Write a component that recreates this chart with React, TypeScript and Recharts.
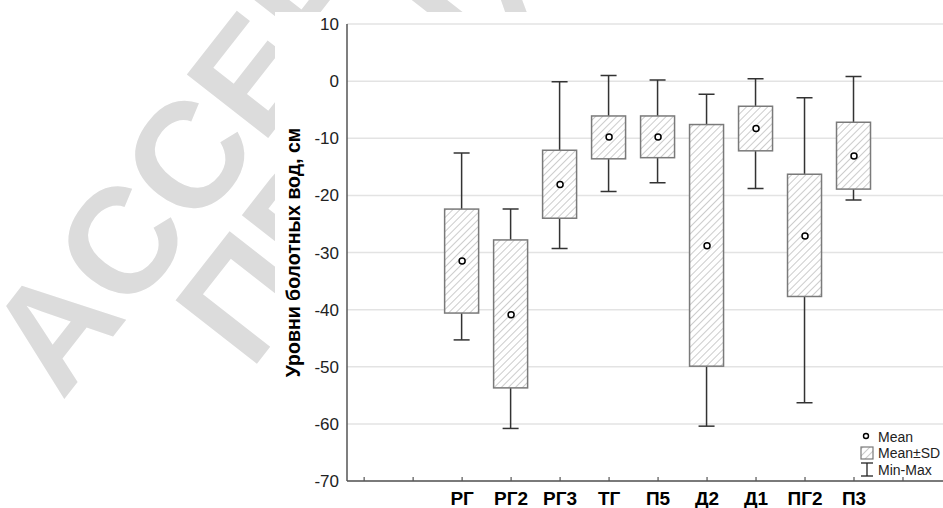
import React from 'react';
import { ComposedChart, Bar, Scatter, XAxis, YAxis, CartesianGrid, Legend } from 'recharts';

const groups = ['РГ', 'РГ2', 'РГ3', 'ТГ', 'П5', 'Д2', 'Д1', 'ПГ2', 'П3'];
const positions = [3, 4, 5, 6, 7, 8, 9, 10, 11];
const minVals = [-45.3, -60.8, -29.3, -19.3, -17.8, -60.4, -18.8, -56.3, -20.8];
const sdLow = [-40.6, -53.7, -24.0, -13.6, -13.4, -49.9, -12.2, -37.7, -18.9];
const means = [-31.5, -40.9, -18.1, -9.8, -9.8, -28.8, -8.3, -27.1, -13.1];
const sdHigh = [-22.4, -27.8, -12.1, -6.1, -6.1, -7.6, -4.4, -16.3, -7.2];
const maxVals = [-12.6, -22.4, -0.1, 1.0, 0.2, -2.3, 0.4, -2.9, 0.8];

const axisTicks = [1, 2, 3, 4, 5, 6, 7, 8, 9, 10, 11, 12];
const xDomain = [0.65, 13.47];
const yTicks = [-70, -60, -50, -40, -30, -20, -10, 0, 10];
const yDomain = [-70, 10];
const yTitle = 'Уровни болотных вод, см';
const legendLabels = ['Mean', 'Mean±SD', 'Min-Max'];
const watermarkLines = ['ACCEPTED', 'ПРИНЯТО'];

const rows = groups.map((g, i) => ({
  name: g,
  x: positions[i],
  min: minVals[i],
  lo: sdLow[i],
  mean: means[i],
  hi: sdHigh[i],
  max: maxVals[i],
  box: [sdLow[i], sdHigh[i]],
  whisk: [minVals[i], maxVals[i]],
}));

const FONT = '"Liberation Sans", Arial, sans-serif';
const AXIS = '#555';

const labelFor = (v: number) => {
  const idx = positions.indexOf(v);
  return idx >= 0 ? groups[idx] : '';
};

const BottomTick = (props: any) => {
  const { x, y, payload } = props;
  return (
    <g>
      <line x1={x} x2={x} y1={y} y2={y - 4} stroke={AXIS} strokeWidth={1.2} />
      <text x={x} y={y + 24} textAnchor="middle" fontWeight="bold" fontSize={19} fill="#000" fontFamily={FONT}>
        {labelFor(payload.value)}
      </text>
    </g>
  );
};

const TopTick = (props: any) => {
  const { x, y } = props;
  return <line x1={x} x2={x} y1={y} y2={y + 4} stroke={AXIS} strokeWidth={1.2} />;
};

const BoxShape = (props: any) => {
  const { x, y, width, height } = props;
  const top = height < 0 ? y + height : y;
  const h = Math.abs(height);
  return (
    <g>
      <rect x={x} y={top} width={width} height={h} fill="#fff" />
      <rect x={x} y={top} width={width} height={h} fill="url(#hatch)" stroke="#7a7a7a" strokeWidth={1.5} />
    </g>
  );
};

const WhiskerShape = (props: any) => {
  const { x, y, width, height } = props;
  const top = height < 0 ? y + height : y;
  const bottom = top + Math.abs(height);
  const cx = x + width / 2;
  const half = 8;
  return (
    <g stroke="#333" strokeWidth={1.5}>
      <line x1={cx} x2={cx} y1={top} y2={bottom} />
      <line x1={cx - half} x2={cx + half} y1={top} y2={top} />
      <line x1={cx - half} x2={cx + half} y1={bottom} y2={bottom} />
    </g>
  );
};

const MeanDot = (props: any) => {
  const { cx, cy } = props;
  return <circle cx={cx} cy={cy} r={3} fill="#fff" stroke="#000" strokeWidth={1.5} />;
};

const YTitle = (props: any) => {
  const vb = props.viewBox || {};
  const cx = (vb.x || 0) + 18;
  const cy = (vb.y || 0) + (vb.height || 0) / 2;
  return (
    <text
      x={cx}
      y={cy}
      transform={`rotate(-90 ${cx} ${cy})`}
      textAnchor="middle"
      dominantBaseline="central"
      fontWeight="bold"
      fontSize={19.5}
      fontFamily={FONT}
      fill="#000"
    >
      {yTitle}
    </text>
  );
};

const LegendContent = () => (
  <svg width={90} height={50} style={{ display: 'block', overflow: 'visible' }}>
    <defs>
      <pattern id="hatchL" patternUnits="userSpaceOnUse" width={5} height={5} patternTransform="rotate(45)">
        <line x1={0} y1={0} x2={0} y2={5} stroke="#9a9a9a" strokeWidth={1} />
      </pattern>
    </defs>
    <circle cx={8} cy={6} r={2.5} fill="#fff" stroke="#000" strokeWidth={1.4} />
    <text x={20} y={11.5} fontSize={14} fontFamily={FONT} fill="#222">{legendLabels[0]}</text>
    <rect x={3} y={17} width={12} height={12} fill="url(#hatchL)" stroke="#7a7a7a" strokeWidth={1.2} />
    <text x={20} y={28} fontSize={14} fontFamily={FONT} fill="#222">{legendLabels[1]}</text>
    <g stroke="#222" strokeWidth={1.3}>
      <line x1={9} x2={9} y1={33} y2={46} />
      <line x1={3} x2={15} y1={33} y2={33} />
      <line x1={3} x2={15} y1={46} y2={46} />
    </g>
    <text x={20} y={45} fontSize={14} fontFamily={FONT} fill="#222">{legendLabels[2]}</text>
  </svg>
);

export default function App() {
  return (
    <div
      style={{
        position: 'fixed',
        left: 0,
        top: 0,
        width: 943,
        height: 508,
        overflow: 'hidden',
        background: '#fff',
        fontFamily: FONT,
      }}
    >
      <svg width={943} height={508} style={{ position: 'absolute', left: 0, top: 0 }}>
        <g transform="translate(62 402) rotate(-52)" fill="#dcdcdc" fontFamily={FONT} fontWeight="bold" fontSize={150}>
          <text x={0} y={0}>{watermarkLines[0]}</text>
          <text x={140} y={130}>{watermarkLines[1]}</text>
        </g>
      </svg>
      <div style={{ position: 'absolute', left: 275, top: 12, width: 700, height: 496, background: '#fff' }}>
        <ComposedChart width={700} height={496} data={rows} margin={{ top: 12, right: 0, left: 0, bottom: 0 }}>
          <defs>
            <pattern id="hatch" patternUnits="userSpaceOnUse" width={5} height={5} patternTransform="rotate(45)">
              <line x1={0} y1={0} x2={0} y2={5} stroke="#9a9a9a" strokeWidth={1} />
            </pattern>
          </defs>
          <CartesianGrid xAxisId="main" vertical={false} stroke="#e3e3e3" strokeWidth={1.5} />
          <XAxis
            xAxisId="main"
            dataKey="x"
            type="number"
            domain={xDomain}
            ticks={axisTicks}
            interval={0}
            allowDataOverflow
            tickLine={false}
            tickSize={0}
            tickMargin={0}
            height={27}
            axisLine={{ stroke: AXIS, strokeWidth: 1.5 }}
            tick={<BottomTick />}
          />
          <XAxis xAxisId="wh" dataKey="x" type="number" domain={xDomain} allowDataOverflow hide />
          <XAxis
            xAxisId="top"
            orientation="top"
            dataKey="x"
            type="number"
            domain={xDomain}
            ticks={axisTicks}
            interval={0}
            allowDataOverflow
            tickLine={false}
            tickSize={0}
            tickMargin={0}
            height={0}
            axisLine={{ stroke: AXIS, strokeWidth: 1.5 }}
            tick={<TopTick />}
          />
          <YAxis
            type="number"
            domain={yDomain}
            ticks={yTicks}
            interval={0}
            width={72}
            tickLine={false}
            axisLine={{ stroke: AXIS, strokeWidth: 1.5 }}
            tick={{ fontSize: 17, fill: '#222', fontFamily: FONT }}
            label={<YTitle />}
          />
          <Bar xAxisId="wh" dataKey="whisk" barSize={34} shape={<WhiskerShape />} isAnimationActive={false} />
          <Bar xAxisId="main" dataKey="box" barSize={34} shape={<BoxShape />} isAnimationActive={false} />
          <Scatter xAxisId="main" dataKey="mean" shape={<MeanDot />} isAnimationActive={false} />
          <Legend
            layout="vertical"
            align="center"
            verticalAlign="middle"
            wrapperStyle={{ left: 583, top: 418, width: 90, height: 50 }}
            content={<LegendContent />}
          />
        </ComposedChart>
      </div>
    </div>
  );
}
